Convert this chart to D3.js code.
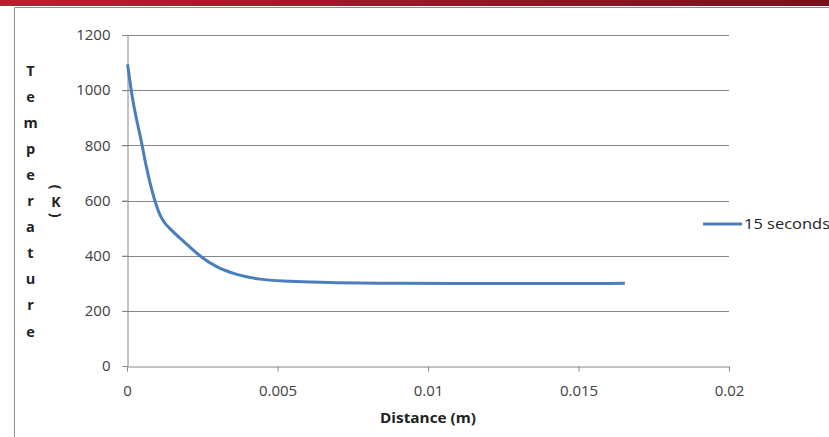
<!DOCTYPE html>
<html>
<head>
<meta charset="utf-8">
<script src="https://cdn.jsdelivr.net/npm/d3@7/dist/d3.min.js"></script>
<style>
	html, body { margin: 0; padding: 0; background: #fff; }
	svg text { font-family: "Open Sans", sans-serif; }
</style>
</head>
<body>
<div id="chart"></div>
<script>

// values
var distance = [0.00002, 0.00014, 0.00050, 0.00063, 0.00092, 0.00110, 0.00126, 0.00142, 0.00189, 0.00243, 0.00298, 0.00365, 0.00442, 0.00542, 0.00674, 0.00907, 0.01200, 0.01500, 0.01654];
var temperature = [1094, 1000, 801, 729, 602, 547, 518, 499, 451, 399, 360, 332, 315, 307, 303, 300, 299, 299, 300];
var xTicks = [0, 0.005, 0.01, 0.015, 0.02];
var yTicks = [0, 200, 400, 600, 800, 1000, 1200];
var seriesName = "15 seconds";
var xTitle = "Distance (m)";
var yTitle = "Temperature";
var yUnit = "K";

var W = 829, H = 437;
var font = "'Open Sans', sans-serif";

var svg = d3.select("#chart").append("svg")
	.attr("width", W)
	.attr("height", H);

// red bar along the top of the page
var grad = svg.append("defs").append("linearGradient").attr("id", "topbar");
grad.append("stop").attr("offset", "0%").attr("stop-color", "#b4222e");
grad.append("stop").attr("offset", "100%").attr("stop-color", "#7a0f1e");
svg.append("rect").attr("x", 0).attr("y", 0).attr("width", W).attr("height", 6).attr("fill", "url(#topbar)");

// chart frame
svg.append("path")
	.attr("d", "M14.5," + H + " L14.5,7.5 L" + W + ",7.5")
	.attr("fill", "none")
	.attr("stroke", "#8c8c8c")
	.attr("stroke-width", 1);

var x = d3.scaleLinear().domain([0, 0.02]).range([127, 729]);
var y = d3.scaleLinear().domain([0, 1200]).range([366, 35]);

// gridlines
svg.append("g").selectAll("line")
	.data(yTicks.filter(function(d) { return d > 0; }))
	.join("line")
	.attr("x1", x(0) - 5).attr("x2", x(0.02))
	.attr("y1", function(d) { return Math.round(y(d)) + 0.5; })
	.attr("y2", function(d) { return Math.round(y(d)) + 0.5; })
	.attr("stroke", "#868686");

// axes
var xAxis = svg.append("g")
	.attr("transform", "translate(0," + (Math.round(y(0)) + 0.5) + ")")
	.call(d3.axisBottom(x).tickValues(xTicks).tickSize(5).tickSizeOuter(0).tickFormat(function(d) { return String(+d.toFixed(3)); }));

var yAxis = svg.append("g")
	.attr("transform", "translate(" + (Math.round(x(0)) + 0.5) + ",0)")
	.call(d3.axisLeft(y).tickValues(yTicks).tickSize(5).tickSizeOuter(0).tickFormat(d3.format("d")));

[xAxis, yAxis].forEach(function(a) {
	a.select(".domain").attr("stroke", "#868686");
	a.selectAll(".tick line").attr("stroke", "#868686");
	a.selectAll(".tick text")
		.attr("fill", "#404040")
		.style("font-size", "15px")
		.style("font-family", font);
});
xAxis.selectAll(".tick text").attr("y", 29.5).attr("dy", 0);
yAxis.selectAll(".tick text").attr("x", -17);

// the series
var line = d3.line()
	.x(function(d, i) { return x(distance[i]); })
	.y(function(d) { return y(d); })
	.curve(d3.curveMonotoneX);

svg.append("path")
	.datum(temperature)
	.attr("d", line)
	.attr("fill", "none")
	.attr("stroke", "#4a7ebb")
	.attr("stroke-width", 3)
	.attr("stroke-linejoin", "round");

// legend (text stretched a bit, like the original)
svg.append("line")
	.attr("x1", 703).attr("x2", 742)
	.attr("y1", 224).attr("y2", 224)
	.attr("stroke", "#4a7ebb")
	.attr("stroke-width", 3);
svg.append("text")
	.attr("x", 744).attr("y", 229)
	.attr("fill", "#222")
	.attr("textLength", 86)
	.attr("lengthAdjust", "spacingAndGlyphs")
	.style("font-size", "14px")
	.text(seriesName);

// axis titles
svg.append("text")
	.attr("x", 380).attr("y", 423)
	.attr("fill", "#222")
	.attr("textLength", 96)
	.attr("lengthAdjust", "spacingAndGlyphs")
	.style("font-size", "13.5px")
	.style("font-weight", "bold")
	.text(xTitle);

// vertical stacked letters for the y title
svg.append("g").selectAll("text")
	.data(yTitle.split(""))
	.join("text")
	.attr("x", 30.5)
	.attr("y", function(d, i) { return 75.5 + i * 26.1; })
	.attr("text-anchor", "middle")
	.attr("fill", "#222")
	.style("font-size", "14.5px")
	.style("font-weight", "bold")
	.text(function(d) { return d; });

var unit = svg.append("g").attr("transform", "translate(56,0)").attr("fill", "#222").style("font-size", "14px").style("font-weight", "bold");
unit.append("text").attr("transform", "translate(0,187) rotate(90)").attr("text-anchor", "middle").attr("dy", "0.35em").text("(");
unit.append("text").attr("x", 0).attr("y", 207).attr("text-anchor", "middle").text(yUnit);
unit.append("text").attr("transform", "translate(0,215) rotate(90)").attr("text-anchor", "middle").attr("dy", "0.35em").text(")");

</script>
</body>
</html>
